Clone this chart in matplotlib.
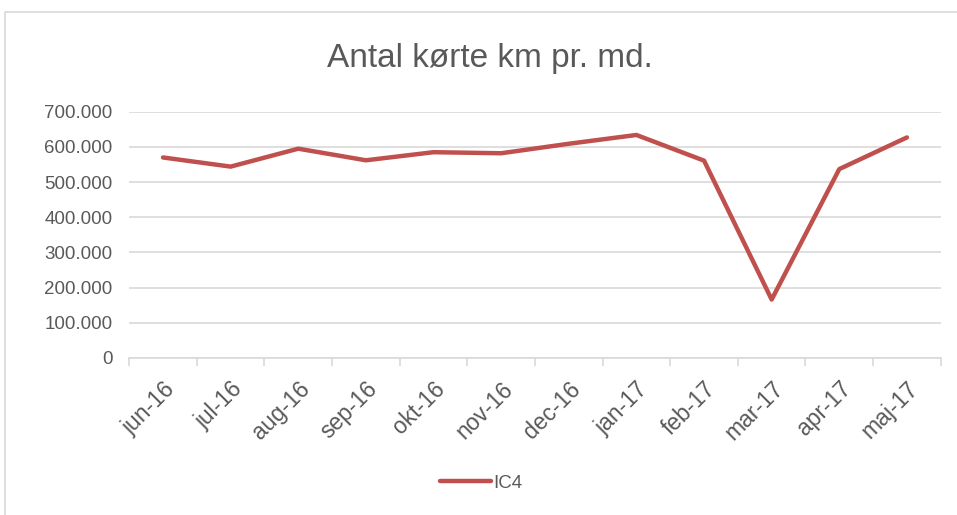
import numpy as np
import matplotlib.pyplot as plt
from matplotlib.patches import Rectangle

maaneder = ["jun-16", "jul-16", "aug-16", "sep-16", "okt-16", "nov-16",
            "dec-16", "jan-17", "feb-17", "mar-17", "apr-17", "maj-17"]
ic4_km = [570000, 544000, 595000, 562000, 585000, 582000,
          609000, 634000, 561000, 166000, 537000, 627000]
y_ticks = [0, 100000, 200000, 300000, 400000, 500000, 600000, 700000]

plt.rcParams['font.family'] = ['Liberation Sans', 'DejaVu Sans']
grey = "#595959"

fig = plt.figure(figsize=(9.57, 5.15), dpi=100)
ax = fig.add_axes([0.135, 0.305, 0.848, 0.478])

# ramme om hele diagrammet (kun venstre og top ses i billedet)
fig.patches.append(Rectangle((5 / 957, -0.05), 1.0, 1 - 12 / 515 + 0.05,
                             transform=fig.transFigure, fill=False,
                             edgecolor="#D9D9D9", linewidth=1.2))

x = np.arange(len(maaneder))
line, = ax.plot(x, ic4_km, color="#C0504D", linewidth=3.2,
                solid_joinstyle="round", solid_capstyle="round", label="IC4")

ax.set_xlim(-0.5, len(maaneder) - 0.5)
ax.set_ylim(0, 700000)
ax.set_yticks(y_ticks)
ax.set_yticklabels(["0"] + [f"{v // 1000}.000" for v in y_ticks[1:]])
ax.set_xticks(x)
ax.set_xticklabels(maaneder, rotation=45, ha="right", rotation_mode="anchor")
ax.set_xticks(np.arange(-0.5, len(maaneder)), minor=True)

ax.grid(axis="y", color="#D9D9D9", linewidth=1.2)
ax.set_axisbelow(True)
for s in ["top", "right", "left"]:
    ax.spines[s].set_visible(False)
ax.spines["bottom"].set_color("#D9D9D9")
ax.spines["bottom"].set_linewidth(1.2)
ax.tick_params(axis="y", length=0, labelsize=13.5, labelcolor=grey, pad=12)
ax.tick_params(axis="x", which="major", length=0, labelsize=16.5,
               labelcolor=grey, pad=14)
ax.tick_params(axis="x", which="minor", length=6, color="#D9D9D9", width=1.2)
for lbl in ax.get_xticklabels():
    lbl.set_x(lbl.get_position()[0])

fig.text(0.512, 0.887, "Antal kørte km pr. md.", ha="center", va="center",
         fontsize=24, color=grey)

fig.legend(handles=[line], loc="center", bbox_to_anchor=(0.503, 0.062),
           frameon=False, fontsize=13.5, labelcolor=grey,
           handlelength=2.7, handletextpad=0.15)

fig.savefig("out.png", dpi=100)
